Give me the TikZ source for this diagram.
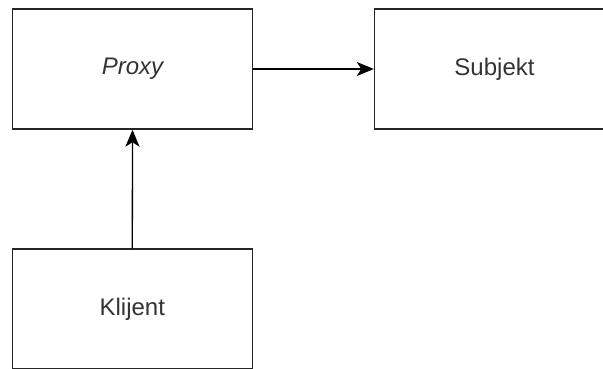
\documentclass[tikz,border=0pt]{standalone}
\usepackage{fontspec}
\setmainfont{Liberation Sans}
\usetikzlibrary{arrows.meta}
\definecolor{txt}{HTML}{333333}
\tikzset{
  box/.style={draw=black!85, line width=1.4pt, fill=white, minimum width=240pt, minimum height=120pt, inner sep=0pt, font=\fontsize{24}{28}\selectfont, text=txt},
  conn/.style={draw=black, line width=1.3pt, -{Stealth[length=17pt,width=14pt,inset=4.5pt]}}
}
\begin{document}
\begin{tikzpicture}[x=1pt,y=-1pt]
\useasboundingbox (0,0) rectangle (603,369);
\node[box] (proxy) at (132.5,69) {\itshape Proxy};
\node[box] (subj) at (494.5,69) {Subjekt};
\node[box] (klijent) at (132.3,309) {Klijent};
\draw[conn] (proxy.east) -- (subj.west);
\draw[conn] (klijent.north) -- (proxy.south);
\end{tikzpicture}
\end{document}
